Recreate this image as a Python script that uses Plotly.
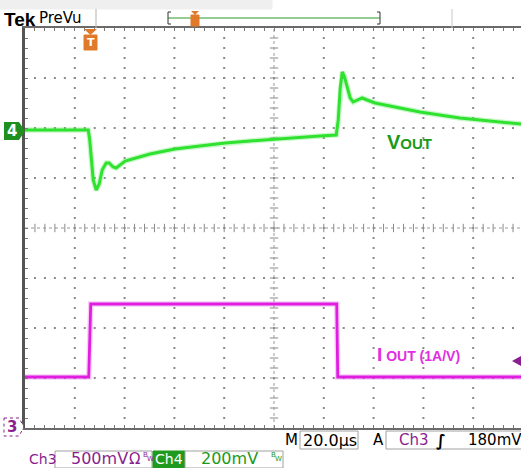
import numpy as np
import plotly.graph_objects as go

# ---------------- data (graticule divisions) ----------------
# x: divisions from left graticule edge (20 us/div); y: divisions from screen centre
ch4_x = [0.00, 1.27, 1.30, 1.33, 1.37, 1.43, 1.49, 1.55, 1.63, 1.69,
         1.77, 1.83, 1.91, 2.01, 2.51, 3.01, 3.51, 4.02, 4.52, 5.02,
         5.52, 5.92, 6.25, 6.29, 6.33, 6.37, 6.41, 6.47, 6.53, 6.59,
         6.67, 6.77, 6.87, 7.03, 7.33, 7.93, 8.73, 9.54, 9.96]
ch4_y = [1.96, 1.96, 1.76, 1.36, 0.96, 0.76, 0.88, 1.16, 1.30, 1.30,
         1.22, 1.20, 1.26, 1.34, 1.48, 1.58, 1.64, 1.70, 1.74, 1.78,
         1.82, 1.84, 1.86, 2.16, 2.80, 3.12, 3.04, 2.80, 2.60, 2.52,
         2.56, 2.60, 2.56, 2.50, 2.44, 2.32, 2.20, 2.12, 2.08]

ch3_x = [0.00, 1.28, 1.32, 6.26, 6.28, 9.96]
ch3_y = [-2.98, -2.98, -1.52, -1.52, -2.98, -2.98]

XMAX = 9.96
W, H = 521, 468
L, T, B = 25, 28, 40   # graticule margins (px)

GREEN = "#30e230"
GREEN_TXT = "#1a9a1a"
MAG = "#e01ee0"
PURP = "#8a1f8f"
FONT = "DejaVu Sans"

def PX(p):
    return (p - L) / (W - L)

def PY(p):
    return (H - B - p) / (H - T - B)

fig = go.Figure()

# ---------------- graticule ----------------
steps_y = np.round(np.arange(-3.8, 4.0, 0.2), 2)
steps_x = np.round(np.arange(0.2, XMAX, 0.2), 2)
gx, gy = [], []
for xi in [1, 2, 3, 4, 6, 7, 8, 9]:
    for yv in steps_y:
        gx.append(xi); gy.append(yv)
for yi in [-3, -2, -1, 1, 2, 3]:
    for xv in steps_x:
        gx.append(xv); gy.append(yi)
fig.add_trace(go.Scatter(x=gx, y=gy, mode="markers",
                         marker=dict(symbol="square", size=2, color="#8a8a8a"),
                         hoverinfo="skip", showlegend=False))
# centre cross
fig.add_trace(go.Scatter(x=[5, 5], y=[-4, 4], mode="lines",
                         line=dict(color="#9a9a9a", width=1, dash="dot"),
                         hoverinfo="skip", showlegend=False))
fig.add_trace(go.Scatter(x=[0, XMAX], y=[0, 0], mode="lines",
                         line=dict(color="#9a9a9a", width=1, dash="dot"),
                         hoverinfo="skip", showlegend=False))
fig.add_trace(go.Scatter(x=[5] * len(steps_y), y=steps_y, mode="markers",
                         marker=dict(symbol="line-ew", size=6,
                                     line=dict(color="#8a8a8a", width=1)),
                         hoverinfo="skip", showlegend=False))
fig.add_trace(go.Scatter(x=steps_x, y=[0] * len(steps_x), mode="markers",
                         marker=dict(symbol="line-ns", size=6,
                                     line=dict(color="#8a8a8a", width=1)),
                         hoverinfo="skip", showlegend=False))

# ---------------- waveforms ----------------
fig.add_trace(go.Scatter(x=ch4_x, y=ch4_y, mode="lines",
                         line=dict(color="rgba(80,230,80,0.3)", width=5.5),
                         hoverinfo="skip", showlegend=False))
fig.add_trace(go.Scatter(x=ch4_x, y=ch4_y, mode="lines", name="Ch4",
                         line=dict(color=GREEN, width=3), showlegend=False))
fig.add_trace(go.Scatter(x=ch3_x, y=ch3_y, mode="lines",
                         line=dict(color="rgba(230,90,230,0.3)", width=5.5),
                         hoverinfo="skip", showlegend=False))
fig.add_trace(go.Scatter(x=ch3_x, y=ch3_y, mode="lines", name="Ch3",
                         line=dict(color=MAG, width=2.8), showlegend=False))

shapes = []
ann = []

def rect(x0, y0, x1, y1, fill="white", line="#a0a0a0", lw=1):
    shapes.append(dict(type="rect", xref="paper", yref="paper",
                       x0=PX(x0), x1=PX(x1), y0=PY(y1), y1=PY(y0),
                       fillcolor=fill, line=dict(color=line, width=lw), layer="above"))

def seg(x0, y0, x1, y1, color, lw=1, dash="solid"):
    shapes.append(dict(type="line", xref="paper", yref="paper",
                       x0=PX(x0), x1=PX(x1), y0=PY(y0), y1=PY(y1),
                       line=dict(color=color, width=lw, dash=dash), layer="above"))

def poly(pts, fill, line=None, lw=0, dash="solid"):
    d = "M " + " L ".join(f"{PX(a):.5f},{PY(b):.5f}" for a, b in pts) + " Z"
    shapes.append(dict(type="path", xref="paper", yref="paper", path=d,
                       fillcolor=fill,
                       line=dict(color=line or fill, width=lw, dash=dash), layer="above"))

def text(x, y, s, size=15, color="black", anchor="left", family=FONT, bold=False):
    if bold:
        s = "<b>" + s + "</b>"
    ann.append(dict(xref="paper", yref="paper", x=PX(x), y=PY(y), text=s,
                    showarrow=False, xanchor=anchor, yanchor="middle",
                    borderpad=0, font=dict(family=family, size=size, color=color)))

# top bar
rect(0, 0, 272, 9, fill="#efefef", line="#efefef")
seg(96, 9, 96, 28, "#b0b0b0")
seg(452, 9, 452, 28, "#c8c8c8")
text(3, 19, "Tek", size=19, family="Liberation Sans", bold=True)
text(38, 18, "PreVu", size=15)
seg(168, 18, 380, 18, "#2a9a2a", 1)
seg(168, 12, 168, 24, "#333", 1); seg(168, 12, 171, 12, "#333", 1); seg(168, 24, 171, 24, "#333", 1)
seg(380, 12, 380, 24, "#333", 1); seg(377, 12, 380, 12, "#333", 1); seg(377, 24, 380, 24, "#333", 1)
poly([(191, 11), (199, 11), (195, 15)], "#e07a2a")
rect(191, 15, 199, 26, fill="#e07a2a", line="#e07a2a")

# trigger position marker in graticule
poly([(84, 29), (97, 29), (90.5, 35)], "#e07a2a")
rect(84, 35, 97, 50, fill="#e07a2a", line="#e07a2a")
text(90.5, 43, "T", size=11, color="white", anchor="center", bold=True)

# channel markers
poly([(4, 122), (19, 122), (25, 131), (19, 140), (4, 140)], "#1f8f1f")
text(11.5, 131, "4", size=15, color="white", anchor="center", bold=True)
poly([(4, 418), (19, 418), (24, 427), (19, 436), (4, 436)], "white", line=PURP, lw=1, dash="dot")
text(11.5, 427, "3", size=15, color=PURP, anchor="center", bold=True)
poly([(512, 361), (521, 356), (521, 366)], PURP)

# trace labels
text(386, 142, "V<span style='font-size:15px'>OUT</span>", size=20, color=GREEN_TXT, bold=True,
     family="Liberation Sans")
text(376, 354, "I<span style='font-size:14px'> OUT (1A/V)</span>", size=19, color="#e22ee2",
     bold=True, family="Liberation Sans")

# bottom status rows
text(284, 440, "M", size=15)
rect(300, 431, 358, 449)
text(329.5, 440, "20.0µs", size=16, anchor="center")
text(372, 440, "A", size=15)
rect(386, 431, 530, 449)
text(398, 440, "Ch3", size=15, color=PURP)
text(435, 440, "∫", size=16, bold=True)
text(467, 440, "180mV", size=15)

text(28, 459, "Ch3", size=14, color=PURP)
rect(55, 451, 152, 468)
text(70, 459, "500mV", size=16, color=PURP)
text(128, 459, "Ω", size=15, color=PURP)
text(142, 455, "B", size=7, color=PURP)
text(146, 459, "W", size=7, color=PURP)
rect(153, 451, 185, 468, fill="#1f9a1f", line="#1f9a1f")
text(169, 459, "Ch4", size=14, color="white", anchor="center")
rect(185, 451, 283, 468)
text(200, 459, "200mV", size=16, color=GREEN_TXT)
text(270, 455, "B", size=7, color=GREEN_TXT)
text(274, 459, "W", size=7, color=GREEN_TXT)

fig.update_layout(
    width=W, height=H, autosize=False,
    margin=dict(l=L, r=0, t=T, b=B, pad=0),
    paper_bgcolor="white", plot_bgcolor="white",
    shapes=shapes, annotations=ann,
    xaxis=dict(range=[0, XMAX], showgrid=False, zeroline=False,
               showline=True, linecolor="#6a6a6a", linewidth=2, mirror="ticks",
               ticks="inside", dtick=0.2, tick0=0, ticklen=3, tickcolor="#7a7a7a",
               showticklabels=False, fixedrange=True),
    yaxis=dict(range=[-4, 4], showgrid=False, zeroline=False,
               showline=True, linecolor="#555555", linewidth=3,
               ticks="inside", dtick=0.2, tick0=0, ticklen=3, tickcolor="#7a7a7a",
               showticklabels=False, fixedrange=True),
)

fig.write_html("out.html", config={"displayModeBar": False},
               post_script="document.body.style.margin='0';document.body.style.overflow='hidden';")
